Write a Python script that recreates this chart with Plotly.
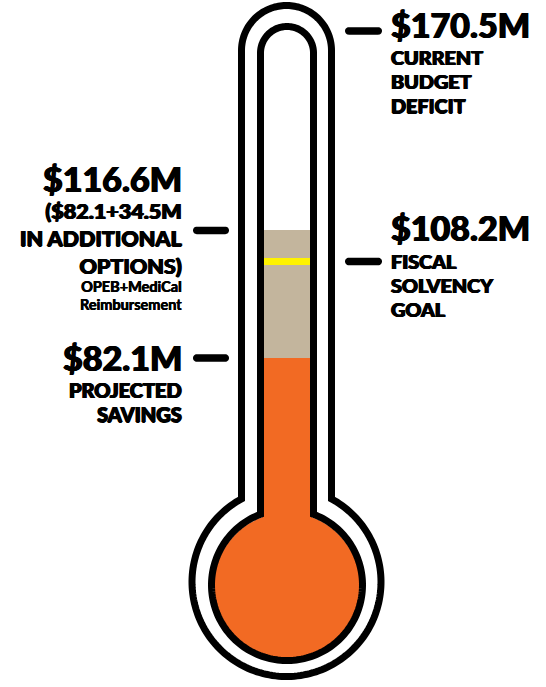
import numpy as np
import plotly.graph_objects as go

# ---------------- data ----------------
projected_savings = 82.1
additional_options = 34.5
total_with_options = 116.6
solvency_goal = 108.2
budget_deficit = 170.5

deficit_lines = ["$170.5M", "CURRENT", "BUDGET", "DEFICIT"]
goal_lines = ["$108.2M", "FISCAL", "SOLVENCY", "GOAL"]
options_lines = ["$116.6M", "($82.1+34.5M", "IN ADDITIONAL", "OPTIONS)"]
options_note = ["OPEB+MediCal", "Reimbursement"]
savings_lines = ["$82.1M", "PROJECTED", "SAVINGS"]

# ---------------- layout helpers (pixel <-> value scale) ----------------
W, H = 546, 687
K = 3.70          # pixels per $M
Y0 = 661.8        # pixel row of $0


def vx(px):
    return px / K


def vy(py):
    return (Y0 - py) / K


def py_of(v):
    return Y0 - K * v


ORANGE = "#F26A23"
BEIGE = "#C3B59D"
YELLOW = "#FFF200"
FONT = "Lato"
HEAVY = "0.7px 0 0 #000, -0.7px 0 0 #000, 0 0.3px 0 #000"
SEMI = "0.3px 0 0 #000, -0.3px 0 0 #000"


def path_from(pts):
    return "M " + " L ".join(f"{vx(x):.4f},{vy(y):.4f}" for x, y in pts) + " Z"


def outline_pts(cx, hw, top_cy, bulb_cy, r, n=80):
    a0 = np.arcsin(hw / r)
    jy = bulb_cy - r * np.cos(a0)
    pts = [(cx - hw, jy), (cx - hw, top_cy)]
    for t in np.linspace(np.pi, 0, n):
        pts.append((cx + hw * np.cos(t), top_cy - hw * np.sin(t)))
    pts.append((cx + hw, jy))
    for a in np.linspace(a0, 2 * np.pi - a0, 2 * n):
        pts.append((cx + r * np.sin(a), bulb_cy - r * np.cos(a)))
    return pts


def capsule_pts(x0, x1, yc, t=7.5, n=16):
    r = t / 2
    pts = []
    for a in np.linspace(np.pi / 2, -np.pi / 2, n):
        pts.append((x1 - r + r * np.cos(a), yc - r * np.sin(a)))
    for a in np.linspace(-np.pi / 2, -3 * np.pi / 2, n):
        pts.append((x0 + r + r * np.cos(a), yc - r * np.sin(a)))
    return pts


CX = 287
BULB_CY = 586
fig = go.Figure()

# mercury column (bars in $M)
bulb_val = vy(BULB_CY)
fig.add_trace(go.Bar(x=[vx(CX)], y=[projected_savings - bulb_val], base=[bulb_val],
                     width=[50 / K], marker=dict(color=ORANGE, line=dict(width=0)),
                     hoverinfo="skip"))
fig.add_trace(go.Bar(x=[vx(CX)], y=[additional_options], base=[projected_savings],
                     width=[50 / K], marker=dict(color=BEIGE, line=dict(width=0)),
                     hoverinfo="skip"))

shapes = []
shapes.append(dict(type="circle", xref="x", yref="y", layer="below",
                   x0=vx(CX - 73), x1=vx(CX + 73), y0=vy(BULB_CY + 73), y1=vy(BULB_CY - 73),
                   fillcolor=ORANGE, line=dict(width=0)))
shapes.append(dict(type="line", xref="x", yref="y", layer="above",
                   x0=vx(CX - 24), x1=vx(CX + 24), y0=solvency_goal, y1=solvency_goal,
                   line=dict(color=YELLOW, width=7)))
shapes.append(dict(type="path", xref="x", yref="y", layer="above",
                   path=path_from(outline_pts(CX, 26.5, 53, 585, 75.5)),
                   line=dict(color="black", width=7), fillcolor="rgba(0,0,0,0)"))
shapes.append(dict(type="path", xref="x", yref="y", layer="above",
                   path=path_from(outline_pts(286.5, 45, 50.5, 582, 94.5)),
                   line=dict(color="black", width=7), fillcolor="rgba(0,0,0,0)"))

for v in (budget_deficit, solvency_goal):
    shapes.append(dict(type="path", xref="x", yref="y", layer="above",
                       path=path_from(capsule_pts(345, 382, py_of(v))),
                       fillcolor="black", line=dict(width=0)))
for v in (total_with_options, projected_savings):
    shapes.append(dict(type="path", xref="x", yref="y", layer="above",
                       path=path_from(capsule_pts(193, 229, py_of(v))),
                       fillcolor="black", line=dict(width=0)))

annotations = []


def add_block(lines, v, mid_off, x_px, anchor, size, pitch, weight=900, shadow=HEAVY):
    """Multi-line text block; mid_off = px below tick of the block's vertical centre."""
    base = pitch / 1.3
    text = "<br>".join(f"<span style='font-size:{size}px'>{t}</span>" for t in lines)
    annotations.append(dict(text=text, x=vx(x_px), y=v, xref="x", yref="y",
                            xanchor=anchor, yanchor="middle", yshift=-mid_off,
                            align=anchor, showarrow=False,
                            font=dict(family=FONT, size=base, color="black",
                                      weight=weight, shadow=shadow)))


BIG = 34
RX, LX = 389, 184

# right: $170.5M
add_block(deficit_lines[:1], budget_deficit, -6.5, RX, "left", BIG, BIG * 1.3)
add_block(deficit_lines[1:], budget_deficit, 50.5, RX, "left", 19.8, 24.2)
# right: $108.2M
add_block(goal_lines[:1], solvency_goal, -34, RX, "left", BIG, BIG * 1.3)
add_block(goal_lines[1:], solvency_goal, 24, RX, "left", 19.8, 24)
# left: $116.6M
add_block(options_lines[:1], total_with_options, -52, LX, "right", BIG, BIG * 1.3)
add_block(options_lines[1:], total_with_options, 8, LX, "right", 21.5, 27.3)
add_block(options_note, total_with_options, 65.5, LX, "right", 14.5, 17.6,
          weight=700, shadow=SEMI)
# left: $82.1M
add_block(savings_lines[:1], projected_savings, -0.5, LX, "right", BIG, BIG * 1.3)
add_block(savings_lines[1:], projected_savings, 44.2, LX, "right", 20, 24.4)

fig.update_layout(
    width=W, height=H, margin=dict(l=0, r=0, t=0, b=0),
    paper_bgcolor="white", plot_bgcolor="white",
    showlegend=False, barmode="overlay", bargap=0,
    xaxis=dict(range=[0, vx(W)], visible=False, fixedrange=True),
    yaxis=dict(range=[vy(H), vy(0)], visible=False, fixedrange=True),
    shapes=shapes, annotations=annotations,
)

fig.write_html("out.html")
